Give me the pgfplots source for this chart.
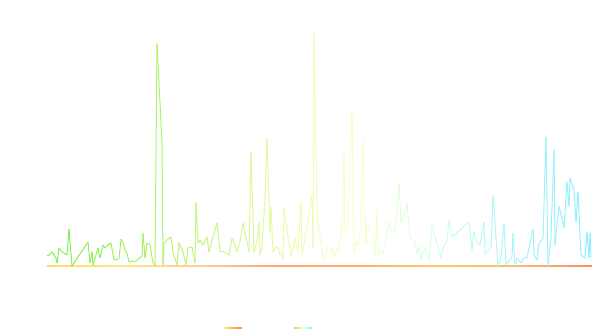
\documentclass[border=0pt]{standalone}
\usepackage{pgfplots}
\pgfplotsset{compat=1.18}
\pgfplotsset{
  colormap={basecm}{rgb255=(255,222,90) rgb255=(255,228,140) rgb255=(255,205,140) rgb255=(255,165,110) rgb255=(255,175,105) rgb255=(255,200,100) rgb255=(255,185,110) rgb255=(250,140,110)},
  colormap={spikecm}{rgb255=(130,235,80) rgb255=(158,240,95) rgb255=(195,245,128) rgb255=(232,252,170) rgb255=(245,255,205) rgb255=(212,255,230) rgb255=(165,245,250) rgb255=(140,240,255)},
}
\begin{document}
\begin{tikzpicture}
\useasboundingbox (0,0) rectangle (595bp,334bp);
\begin{axis}[
  at={(0,0)}, anchor=south west,
  scale only axis, width=595bp, height=334bp,
  xmin=0, xmax=595, ymin=-68, ymax=266,
  hide axis, clip=false,
  point meta min=47, point meta max=592,
  legend columns=2,
  legend style={at={(268.5/595,6/334)}, anchor=center, draw=none, fill=none,
    nodes={inner sep=0pt}, /tikz/every even column/.append style={column sep=50bp}},
]
\addplot[mesh, colormap name=basecm, point meta=x, line width=1.5bp,
  legend image code/.code={
    \draw[draw={rgb,255:red,255;green,230;blue,110}, line width=1.5bp] (0bp,0bp)--(3bp,0bp);
    \draw[draw={rgb,255:red,255;green,210;blue,100}, line width=1.5bp] (3bp,0bp)--(6bp,0bp);
    \draw[draw={rgb,255:red,255;green,190;blue,95}, line width=1.5bp] (6bp,0bp)--(9bp,0bp);
    \draw[draw={rgb,255:red,255;green,175;blue,85}, line width=1.5bp] (9bp,0bp)--(12bp,0bp);
    \draw[draw={rgb,255:red,255;green,160;blue,75}, line width=1.5bp] (12bp,0bp)--(15bp,0bp);
    \draw[draw={rgb,255:red,255;green,150;blue,70}, line width=1.5bp] (15bp,0bp)--(18bp,0bp);
  }]
coordinates {
(47,0)(57,0)(67,0)(77,0)(87,0)(97,0)(107,0)(117,0)(127,0)(137,0)(147,0)(157,0)(167,0)(177,0)(187,0)(197,0)(207,0)(217,0)(227,0)(237,0)(247,0)(257,0)(267,0)(277,0)(287,0)(297,0)(307,0)(317,0)(327,0)(337,0)(347,0)(357,0)(367,0)(377,0)(387,0)(397,0)(407,0)(417,0)(427,0)(437,0)(447,0)(457,0)(467,0)(477,0)(487,0)(497,0)(507,0)(517,0)(527,0)(537,0)(547,0)(557,0)(567,0)(577,0)(587,0)(592,0)
};
\addlegendentry{}
\addplot[mesh, colormap name=spikecm, point meta=x, line width=1bp,
  legend image code/.code={
    \draw[draw={rgb,255:red,165;green,238;blue,110}, line width=1.5bp] (0bp,0bp)--(3bp,0bp);
    \draw[draw={rgb,255:red,205;green,246;blue,150}, line width=1.5bp] (3bp,0bp)--(6bp,0bp);
    \draw[draw={rgb,255:red,240;green,253;blue,190}, line width=1.5bp] (6bp,0bp)--(9bp,0bp);
    \draw[draw={rgb,255:red,225;green,255;blue,220}, line width=1.5bp] (9bp,0bp)--(12bp,0bp);
    \draw[draw={rgb,255:red,185;green,248;blue,240}, line width=1.5bp] (12bp,0bp)--(15bp,0bp);
    \draw[draw={rgb,255:red,155;green,240;blue,255}, line width=1.5bp] (15bp,0bp)--(18bp,0bp);
  }]
coordinates {
(47,10)(49,11)(52,14)(56,8)(57,3)(59,18)(62,14)(67,11)(69,37)(72,0)
(88,24)(90,3)(92,14)(93,1)(96,11)(98,18)(100,8)(103,21)(105,18)(108,21)
(111,23)(114,6)(119,7)(121,27)(123,23)(125,16)(127,13)(129,4)(132,5)(135,4)
(137,6)(142,10)(143,33)(145,8)(147,23)(150,21)(153,3)(155,1)(157,222)(160,163)
(162,123)(163,1)(164,23)(167,26)(171,29)(173,14)(177,1)(179,23)(183,14)(186,1)
(188,18)(192,19)(195,3)(196,63)(198,23)(200,26)(203,21)(207,29)(209,14)(213,29)
(217,43)(220,14)(224,14)(229,11)(232,28)(234,23)(237,14)(240,24)(243,43)(245,33)
(247,24)(249,14)(251,114)(254,13)(257,26)(259,44)(260,11)(262,19)(265,68)(267,128)
(270,34)(271,59)(273,14)(275,18)(278,19)(280,11)(282,13)(283,6)(284,58)(286,44)
(289,23)(291,9)(292,13)(295,28)(298,14)(301,64)(302,11)(307,38)(310,56)(312,71)
(313,18)(314,233)(317,51)(320,29)(322,16)(323,6)(325,4)(327,19)(332,17)(334,9)
(336,15)(338,16)(342,36)(344,111)(345,33)(348,39)(352,158)(354,13)(356,24)(358,21)
(361,36)(363,126)(366,23)(367,43)(373,29)(375,9)(377,56)(378,9)(380,16)(383,11)
(386,29)(389,44)(392,34)(395,34)(397,53)(399,83)(401,44)(405,53)(407,63)(410,28)
(415,24)(417,13)(419,19)(421,6)(423,13)(425,18)(429,6)(432,41)(436,26)(438,19)
(441,8)(443,18)(447,26)(449,46)(452,29)(469,44)(472,16)(474,34)(477,24)(480,21)
(484,44)(485,12)(491,18)(493,71)(498,0)(501,9)(504,42)(506,1)(512,9)(513,33)
(515,0)(517,8)(521,3)(524,8)(527,8)(533,37)(534,11)(537,6)(539,22)(543,28)
(546,129)(548,0)(551,29)(554,116)(555,21)(559,60)(564,38)(567,84)(569,60)(570,88)
(574,76)(576,44)(578,74)(581,11)(585,8)(587,34)(589,8)(590,33)(591,9)
};
\addlegendentry{}
\end{axis}
\end{tikzpicture}
\end{document}
